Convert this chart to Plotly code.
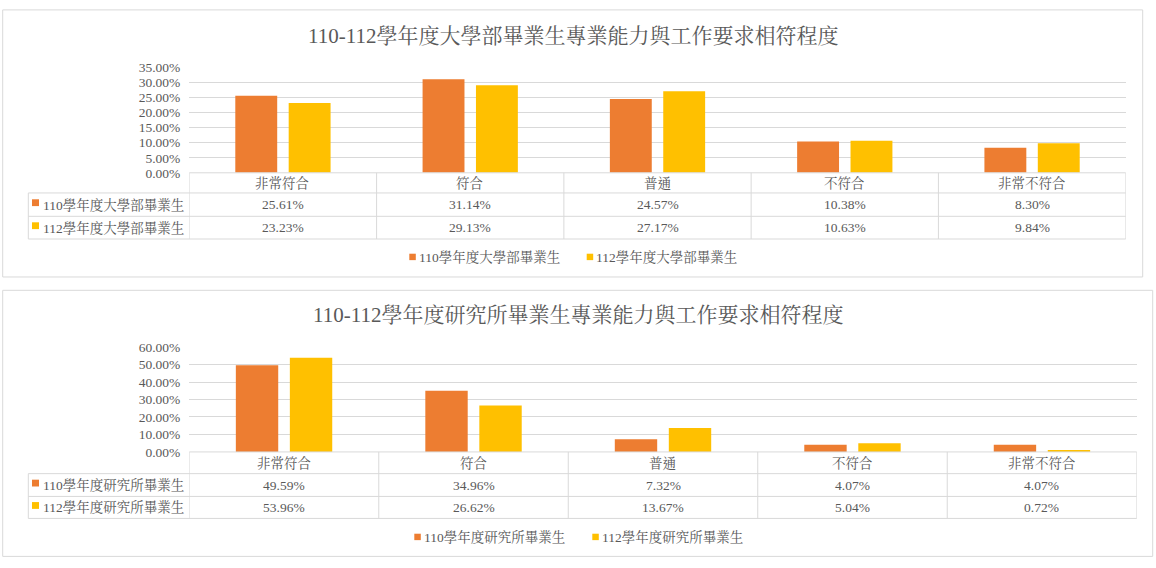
import plotly.graph_objects as go

# ---------------- data ----------------
categories = ["非常符合", "符合", "普通", "不符合", "非常不符合"]

ug_titles = "110-112學年度大學部畢業生專業能力與工作要求相符程度"
ug_names = ["110學年度大學部畢業生", "112學年度大學部畢業生"]
ug_110 = [25.61, 31.14, 24.57, 10.38, 8.30]
ug_112 = [23.23, 29.13, 27.17, 10.63, 9.84]

gr_titles = "110-112學年度研究所畢業生專業能力與工作要求相符程度"
gr_names = ["110學年度研究所畢業生", "112學年度研究所畢業生"]
gr_110 = [49.59, 34.96, 7.32, 4.07, 4.07]
gr_112 = [53.96, 26.62, 13.67, 5.04, 0.72]

ug_axis_max, ug_axis_step = 0.35, 0.05
gr_axis_max, gr_axis_step = 0.60, 0.10

# ---------------- styling / geometry ----------------
W, H = 1156, 568
COLORS = ["#ED7D31", "#FFC000"]
TXT = "#595959"
LINE = "#D9D9D9"
FONT = "Liberation Serif, Noto Serif CJK TC, Noto Sans CJK TC, serif"


def px(x):
    return x / W


def py(y):
    return 1 - y / H


panels = [
    dict(title=ug_titles, names=ug_names, series=[ug_110, ug_112],
         ymax=ug_axis_max, ystep=ug_axis_step,
         box=(2.7, 3, 1142.7, 277.3), plot=(189.3, 62.3, 1125.7, 170.3),
         rows=[170.3, 191, 215, 238.3], title_y=29.3,
         legend_y=256.7, legend_x=[409.3, 586.7]),
    dict(title=gr_titles, names=gr_names, series=[gr_110, gr_112],
         ymax=gr_axis_max, ystep=gr_axis_step,
         box=(2.7, 291, 1152.7, 564.3), plot=(189.3, 349.3, 1136.7, 457),
         rows=[457, 479.3, 502.7, 525.3], title_y=316.7,
         legend_y=544.3, legend_x=[414.3, 592.3]),
]

fig = go.Figure()
shapes = []
annotations = []
TABLE_LEFT = 28.3
SQ = 7

for k, p in enumerate(panels):
    sfx = "" if k == 0 else str(k + 1)
    xa, ya = "x" + sfx, "y" + sfx
    x0, y0, x1, y1 = p["plot"]

    for j, (name, vals) in enumerate(zip(p["names"], p["series"])):
        fig.add_trace(go.Bar(
            x=categories, y=[v / 100 for v in vals], name=name,
            marker=dict(color=COLORS[j], line=dict(width=0)),
            xaxis=xa, yaxis=ya, showlegend=False,
            hovertemplate="%{x}: %{y:.2%}<extra>" + name + "</extra>"))

    fig.update_layout(**{
        "xaxis" + sfx: dict(domain=[px(x0), px(x1)], anchor=ya,
                            range=[-0.5, len(categories) - 0.5],
                            showticklabels=False, showgrid=False,
                            showline=False, zeroline=False, ticks=""),
        "yaxis" + sfx: dict(domain=[py(y1), py(y0)], anchor=xa,
                            range=[0, p["ymax"]], dtick=p["ystep"], tick0=0,
                            tickformat=".2%", showgrid=True, gridcolor=LINE,
                            gridwidth=1, zeroline=False, showline=False,
                            ticks="", ticklabelstandoff=8,
                            tickfont=dict(family=FONT, size=13.5, color=TXT)),
    })

    # chart border
    bx0, by0, bx1, by1 = p["box"]
    shapes.append(dict(type="rect", xref="paper", yref="paper",
                       x0=px(bx0), x1=px(bx1), y0=py(by0), y1=py(by1),
                       line=dict(color=LINE, width=1), layer="below"))

    # title
    annotations.append(dict(text=p["title"], xref="paper", yref="paper",
                            x=px((bx0 + bx1) / 2), y=py(p["title_y"]),
                            xanchor="center", yanchor="middle", showarrow=False,
                            font=dict(family=FONT, size=21, color=TXT)))

    rows = p["rows"]
    # horizontal table lines
    shapes.append(dict(type="line", xref="paper", yref="paper",
                       x0=px(x0), x1=px(x1), y0=py(rows[0]), y1=py(rows[0]),
                       line=dict(color=LINE, width=1)))
    for r in rows[1:]:
        shapes.append(dict(type="line", xref="paper", yref="paper",
                           x0=px(TABLE_LEFT), x1=px(x1), y0=py(r), y1=py(r),
                           line=dict(color=LINE, width=1)))
    # vertical table lines
    shapes.append(dict(type="line", xref="paper", yref="paper",
                       x0=px(TABLE_LEFT), x1=px(TABLE_LEFT),
                       y0=py(rows[1]), y1=py(rows[-1]),
                       line=dict(color=LINE, width=1)))
    for i in range(len(categories) + 1):
        shapes.append(dict(type="line", xref=xa, yref="paper",
                           x0=i - 0.5, x1=i - 0.5,
                           y0=py(rows[0]), y1=py(rows[-1]),
                           line=dict(color=LINE, width=1)))

    # category header row
    for c in categories:
        annotations.append(dict(text=c, xref=xa, yref="paper", x=c,
                                y=py((rows[0] + rows[1]) / 2 + 0.5),
                                xanchor="center", yanchor="middle",
                                showarrow=False,
                                font=dict(family=FONT, size=13.5, color=TXT)))
    # series rows
    for j, (name, vals) in enumerate(zip(p["names"], p["series"])):
        rc = (rows[j + 1] + rows[j + 2]) / 2
        shapes.append(dict(type="rect", xref="paper", yref="paper",
                           x0=px(32), x1=px(32 + SQ),
                           y0=py(rc - 2 - SQ / 2), y1=py(rc - 2 + SQ / 2),
                           fillcolor=COLORS[j], line=dict(width=0)))
        annotations.append(dict(text=name, xref="paper", yref="paper",
                                x=px(41), y=py(rc), xanchor="left",
                                yanchor="middle", showarrow=False,
                                font=dict(family=FONT, size=13.5, color=TXT)))
        for c, v in zip(categories, vals):
            annotations.append(dict(text=f"{v:.2f}%", xref=xa, yref="paper",
                                    x=c, y=py(rc), xanchor="center",
                                    yanchor="middle", showarrow=False,
                                    font=dict(family=FONT, size=13.5,
                                              color=TXT)))

    # legend
    ly = p["legend_y"]
    for j, name in enumerate(p["names"]):
        lx = p["legend_x"][j]
        shapes.append(dict(type="rect", xref="paper", yref="paper",
                           x0=px(lx), x1=px(lx + 6.5),
                           y0=py(ly - 3.3), y1=py(ly + 3.3),
                           fillcolor=COLORS[j], line=dict(width=0)))
        annotations.append(dict(text=name, xref="paper", yref="paper",
                                x=px(lx + 7.5), y=py(ly), xanchor="left",
                                yanchor="middle", showarrow=False,
                                font=dict(family=FONT, size=13.5, color=TXT)))

fig.update_layout(
    width=W, height=H, margin=dict(l=0, r=0, t=0, b=0),
    paper_bgcolor="white", plot_bgcolor="white",
    barmode="group", bargap=0.43, bargroupgap=0.215,
    shapes=shapes, annotations=annotations, showlegend=False,
    font=dict(family=FONT, color=TXT),
)

fig.write_html(
    "out.html",
    config={"displayModeBar": False},
    post_script=(
        "document.documentElement.style.margin='0';"
        "document.body.style.margin='0';"
        "document.body.style.overflow='hidden';"
        "var gd=document.getElementById('{plot_id}');"
        "gd.style.position='fixed';gd.style.top='0';gd.style.left='0';"
    ),
)
